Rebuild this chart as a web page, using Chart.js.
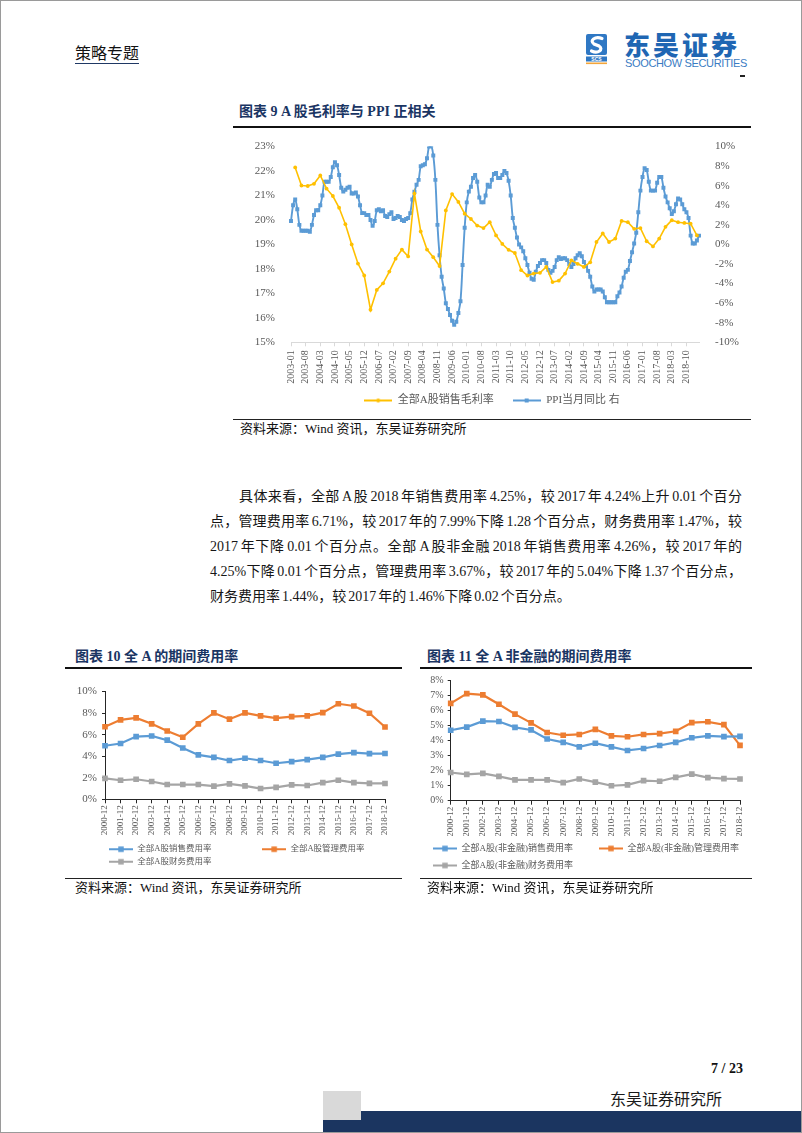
<!DOCTYPE html>
<html lang="zh-CN">
<head>
<meta charset="UTF-8">
<title>策略专题 - 东吴证券</title>
<script src="https://cdn.jsdelivr.net/npm/chart.js"></script>
<style>
  body { margin: 0; background: #fff; }
  .page {
    position: relative; width: 802px; height: 1133px; overflow: hidden;
    font-family: "Liberation Serif", "Noto Sans CJK SC", serif; color: #111;
  }
  .abs { position: absolute; }
  .frame { position: absolute; left: 0; top: 0; right: 0; bottom: 0; border: 1px solid #9a9a9a; pointer-events: none; }
  .topic { left: 75px; top: 42px; font-size: 16px; line-height: 20px; font-family: "Noto Sans CJK SC", sans-serif; border-bottom: 1px solid #1f3864; padding-bottom: 1px; }
  .brand-cn { left: 624px; top: 30px; font-family: "Noto Sans CJK SC", sans-serif; font-weight: 900; font-size: 26px; line-height: 28px; letter-spacing: 3px; color: #1f66b3; }
  .brand-en { left: 625px; top: 57px; font-family: "Liberation Sans", Arial, sans-serif; font-size: 11px; line-height: 12px; letter-spacing: -0.35px; color: #3a7cc3; }
  .title { font-weight: bold; font-size: 14px; line-height: 18px; color: #1a3563; }
  .rule { height: 1.5px; background: #111; }
  .rule-thin { height: 1px; background: #222; }
  .source { font-size: 13px; line-height: 18px; color: #111; }
  .chart-box { position: absolute; }
  .para { left: 210px; top: 484px; width: 532px; font-size: 14px; line-height: 25px; color: #161616; word-spacing: -1.5px; }
  .para div { white-space: nowrap; text-align: justify; text-align-last: justify; }
  .para div.last { text-align-last: left; }
  .para div.first { text-indent: 29px; }
</style>
</head>
<body>
<div class="page">
  <!-- header -->
  <div class="abs topic">策略专题</div>
  <svg class="abs" style="left:586px;top:34px" width="22" height="31" viewBox="0 0 22 31">
    <rect x="0" y="0" width="21" height="21" rx="2" fill="#2f78c4"/>
    <path d="M16 4.5 C9 2, 3 6.5, 8 10 L13 12 C18 15.5, 12 20, 5.5 17" stroke="#fff" stroke-width="3.2" fill="none" stroke-linecap="round"/>
    <rect x="0" y="22.5" width="21" height="5" fill="#2f78c4"/>
    <text x="10.5" y="26.6" font-size="5" fill="#fff" text-anchor="middle" font-family="Liberation Sans" font-weight="bold">SCS</text>
    <rect x="0" y="28.5" width="21" height="1.6" fill="#f3a53a"/>
  </svg>
  <div class="abs brand-cn">东吴证券</div>
  <div class="abs brand-en">SOOCHOW SECURITIES</div>
  <div class="abs" style="left:740px;top:75px;width:5px;height:1.5px;background:#222"></div>

  <!-- chart 9 -->
  <div class="abs title" style="left:239px;top:103px">图表 9 A 股毛利率与 PPI 正相关</div>
  <div class="abs rule" style="left:233px;top:126px;width:518px"></div>
  <div class="chart-box" style="left:233px;top:132px;width:518px;height:284px"><canvas id="c9"></canvas></div>
  <div class="abs rule-thin" style="left:233px;top:419px;width:518px"></div>
  <div class="abs source" style="left:240px;top:420px">资料来源：Wind 资讯，东吴证券研究所</div>

  <!-- text -->
  <div class="abs para">
    <div class="first">具体来看，全部 A 股 2018 年销售费用率 4.25%，较 2017 年 4.24%上升 0.01 个百分</div>
    <div>点，管理费用率 6.71%，较 2017 年的 7.99%下降 1.28 个百分点，财务费用率 1.47%，较</div>
    <div>2017 年下降 0.01 个百分点。全部 A 股非金融 2018 年销售费用率 4.26%，较 2017 年的</div>
    <div>4.25%下降 0.01 个百分点，管理费用率 3.67%，较 2017 年的 5.04%下降 1.37 个百分点，</div>
    <div class="last">财务费用率 1.44%，较 2017 年的 1.46%下降 0.02 个百分点。</div>
  </div>

  <!-- chart 10 -->
  <div class="abs title" style="left:75px;top:648px">图表 10 全 A 的期间费用率</div>
  <div class="abs rule" style="left:65px;top:667px;width:337px"></div>
  <div class="chart-box" style="left:65px;top:680px;width:335px;height:196px"><canvas id="c10"></canvas></div>
  <div class="abs rule-thin" style="left:65px;top:878px;width:337px"></div>
  <div class="abs source" style="left:75px;top:879px">资料来源：Wind 资讯，东吴证券研究所</div>

  <!-- chart 11 -->
  <div class="abs title" style="left:427px;top:648px">图表 11 全 A 非金融的期间费用率</div>
  <div class="abs rule" style="left:420px;top:667px;width:332px"></div>
  <div class="chart-box" style="left:420px;top:670px;width:355px;height:210px"><canvas id="c11"></canvas></div>
  <div class="abs rule-thin" style="left:420px;top:878px;width:332px"></div>
  <div class="abs source" style="left:427px;top:879px">资料来源：Wind 资讯，东吴证券研究所</div>

  <!-- footer -->
  <div class="abs" style="left:711px;top:1060px;font-size:14px;font-weight:bold;line-height:18px">7 / 23</div>
  <div class="abs" style="left:610px;top:1087px;font-size:16px;line-height:22px;font-family:'Noto Sans CJK SC',sans-serif;color:#1a1a1a">东吴证券研究所</div>
  <div class="abs" style="left:323px;top:1111px;width:479px;height:22px;background:#1b3560"></div>
  <div class="abs" style="left:323px;top:1091px;width:38px;height:29px;background:#d9d9d9"></div>

  <div class="frame"></div>
</div>

<script>
// ---- chart 9: gross margin (quarterly, left axis) vs PPI yoy (monthly, right axis)
const ppi = [
  2.4, 4.0, 4.6, 3.6, 2.0, 1.4, 1.4, 1.4, 1.4, 1.3, 2.0, 3.0,        // 2003
  3.5, 3.5, 4.0, 5.0, 6.4, 6.4, 6.4, 6.9, 7.9, 8.4, 8.1, 7.1,        // 2004
  5.8, 5.4, 5.6, 5.8, 5.9, 5.2, 5.2, 5.3, 4.9, 4.0, 3.2, 3.2,        // 2005
  3.0, 3.0, 2.5, 1.9, 2.4, 3.5, 3.6, 3.4, 3.5, 2.9, 2.8, 3.1,        // 2006
  3.3, 2.6, 2.7, 2.9, 2.8, 2.5, 2.4, 2.6, 2.7, 3.2, 4.6, 5.4,        // 2007
  6.1, 6.6, 8.0, 8.1, 8.2, 8.8, 10.0, 10.1, 9.1, 6.6, 2.0, -1.1,     // 2008
  -3.3, -4.5, -6.0, -6.6, -7.2, -7.8, -8.2, -7.9, -7.0, -5.8, -2.1, 1.7, // 2009
  4.3, 5.4, 5.9, 6.8, 7.1, 6.4, 4.8, 4.3, 4.3, 5.0, 6.1, 5.9,        // 2010
  6.6, 7.2, 7.3, 6.8, 6.8, 7.1, 7.5, 7.3, 6.5, 5.0, 2.7, 1.7,        // 2011
  0.7, 0.0, -0.3, -0.7, -1.4, -2.1, -2.9, -3.5, -3.6, -2.8, -2.2, -1.9, // 2012
  -1.6, -1.6, -1.9, -2.6, -2.9, -2.7, -2.3, -1.6, -1.3, -1.5, -1.4, -1.4, // 2013
  -1.6, -2.0, -2.3, -2.0, -1.4, -1.1, -0.9, -1.2, -1.8, -2.2, -2.7, -3.3, // 2014
  -4.3, -4.8, -4.6, -4.6, -4.6, -4.8, -5.4, -5.9, -5.9, -5.9, -5.9, -5.9, // 2015
  -5.3, -4.9, -4.3, -3.4, -2.8, -2.6, -1.7, -0.8, 0.1, 1.2, 3.3, 5.5,  // 2016
  6.9, 7.8, 7.6, 6.4, 5.5, 5.5, 5.5, 6.3, 6.9, 6.9, 5.8, 4.9,        // 2017
  4.3, 3.7, 3.1, 3.4, 4.1, 4.7, 4.6, 4.1, 3.6, 3.3, 2.7, 0.9,        // 2018
  0.1, 0.1, 0.4, 0.9                                                 // 2019
];
const grossMargin = [
  22.15, 21.41, 21.39, 21.48,  21.82, 21.28, 20.98, 20.50,  19.83, 19.00, 18.22, 17.73,
  16.33, 17.14, 17.41, 17.89,  18.42, 18.79, 18.51, 21.08,  19.53, 18.79, 18.48, 18.12,
  20.39, 21.06, 20.74, 20.26,  20.04, 19.77, 19.67, 19.91,  19.37, 19.02, 18.78, 18.65,
  17.95, 17.73, 17.81, 17.84,  18.08, 17.46, 17.52, 17.81,  18.35, 18.21, 18.08, 18.27,
  19.10, 19.45, 19.10, 19.24,  19.96, 19.91, 19.64, 19.67,  19.13, 18.92, 19.24, 19.72,
  19.99, 19.91, 19.88, 19.85,  19.37
];

const months = [];
for (let y = 2003; y <= 2019; y++) {
  for (let m = 1; m <= 12; m++) {
    if (y === 2019 && m > 4) break;
    months.push(y + '-' + String(m).padStart(2, '0'));
  }
}
const quarterEnds = months.filter(l => ['03', '06', '09', '12'].includes(l.slice(5)));

// ---- charts 10 / 11: yearly expense ratios (%)
const years = ['2000-12', '2001-12', '2002-12', '2003-12', '2004-12', '2005-12', '2006-12', '2007-12',
  '2008-12', '2009-12', '2010-12', '2011-12', '2012-12', '2013-12', '2014-12', '2015-12', '2016-12',
  '2017-12', '2018-12'];

const allSales = [4.97, 5.18, 5.82, 5.88, 5.49, 4.76, 4.12, 3.90, 3.60, 3.81, 3.60, 3.35, 3.50, 3.69, 3.90, 4.20, 4.33, 4.24, 4.25];
const allAdmin = [6.74, 7.38, 7.56, 7.01, 6.34, 5.76, 7.01, 8.02, 7.44, 8.02, 7.74, 7.53, 7.68, 7.74, 8.05, 8.87, 8.66, 7.99, 6.71];
const allFinance = [1.95, 1.77, 1.86, 1.65, 1.37, 1.37, 1.37, 1.22, 1.43, 1.25, 1.00, 1.10, 1.34, 1.28, 1.55, 1.77, 1.55, 1.48, 1.47];

const nfSales = [4.67, 4.88, 5.27, 5.25, 4.86, 4.69, 4.09, 3.87, 3.57, 3.81, 3.57, 3.33, 3.46, 3.66, 3.87, 4.17, 4.30, 4.25, 4.26];
const nfAdmin = [6.45, 7.10, 7.01, 6.39, 5.74, 5.16, 4.52, 4.34, 4.39, 4.73, 4.30, 4.24, 4.39, 4.45, 4.60, 5.18, 5.23, 5.04, 3.67];
const nfFinance = [1.87, 1.74, 1.81, 1.61, 1.38, 1.38, 1.38, 1.20, 1.44, 1.23, 0.99, 1.05, 1.33, 1.29, 1.55, 1.76, 1.53, 1.46, 1.44];

const BLUE = '#5b9bd5', ORANGE = '#ed7d31', GRAY = '#a5a5a5', GOLD = '#ffc000';
const TICK = '#595959';
const SERIF = '"Liberation Serif", "Noto Sans CJK SC", serif';

Chart.defaults.animation = false;
Chart.defaults.font.family = SERIF;
Chart.defaults.color = TICK;

// little "line + marker" picture for legend entries (excel style)
function legendIcon(color, shape, w, markSize, lineW) {
  const c = document.createElement('canvas');
  c.width = w; c.height = 10;
  const g = c.getContext('2d');
  g.strokeStyle = color; g.lineWidth = lineW;
  g.beginPath(); g.moveTo(0, 5); g.lineTo(w, 5); g.stroke();
  g.fillStyle = color;
  if (shape === 'rect') {
    g.fillRect(w / 2 - markSize / 2, 5 - markSize / 2, markSize, markSize);
  } else {
    g.beginPath(); g.arc(w / 2, 5, markSize / 2, 0, Math.PI * 2); g.fill();
  }
  return c;
}

function legendLabels(icons, pads) {
  return function (chart) {
    return Chart.defaults.plugins.legend.labels.generateLabels(chart).map((it, i) => {
      it.pointStyle = icons[i];
      it.text = it.text + (pads[i] || '');
      return it;
    });
  };
}

// chart 9
new Chart(document.getElementById('c9'), {
  type: 'line',
  data: {
    labels: months,
    datasets: [{
      label: '全部A股销售毛利率',
      data: quarterEnds.map((q, i) => ({ x: q, y: grossMargin[i] })),
      yAxisID: 'y',
      borderColor: GOLD, backgroundColor: GOLD,
      borderWidth: 1.6, pointRadius: 1.9, pointStyle: 'circle', pointBorderWidth: 0,
      tension: 0
    }, {
      label: 'PPI当月同比 右',
      data: ppi,
      yAxisID: 'y1',
      borderColor: BLUE, backgroundColor: BLUE,
      borderWidth: 1.9, pointRadius: 2.8, pointStyle: 'rect', pointBorderWidth: 0,
      tension: 0.35
    }]
  },
  options: {
    responsive: true,
    maintainAspectRatio: false,
    layout: { padding: { top: 12, left: 0, right: 0, bottom: 0 } },
    plugins: {
      tooltip: { enabled: false },
      legend: {
        position: 'bottom',
        labels: {
          usePointStyle: true, pointStyleWidth: 28, padding: 8,
          font: { size: 11 }, color: TICK,
          generateLabels: legendLabels([legendIcon(GOLD, 'circle', 28, 4, 2), legendIcon(BLUE, 'rect', 28, 4, 2)], ['\u2003', ''])
        }
      }
    },
    scales: {
      x: {
        grid: {
          display: true, drawOnChartArea: false, tickLength: 4,
          color: c => (c.index % 7 === 0 ? '#d9d9d9' : 'rgba(0,0,0,0)')
        },
        border: { display: true, color: '#d9d9d9' },
        ticks: {
          autoSkip: false, minRotation: 90, maxRotation: 90, padding: 4,
          font: { size: 10 }, color: TICK,
          callback: function (v, i) { return i % 7 === 0 ? this.getLabelForValue(v) : ''; }
        },
        afterFit: s => { s.height = 44.7; }
      },
      y: {
        position: 'left', min: 15, max: 23,
        grid: { display: false }, border: { display: false },
        ticks: { stepSize: 1, padding: 8, font: { size: 11 }, color: TICK, callback: v => v + '%' },
        afterFit: s => { s.width = 58; }
      },
      y1: {
        position: 'right', min: -10, max: 10,
        grid: { display: false }, border: { display: false },
        ticks: { stepSize: 2, padding: 8, font: { size: 11 }, color: TICK, callback: v => v + '%' },
        afterFit: s => { s.width = 52; }
      }
    }
  }
});

// charts 10 and 11 share a layout
function expenseChart(id, names, series, opt) {
  const colors = [BLUE, ORANGE, GRAY];
  return new Chart(document.getElementById(id), {
    type: 'line',
    data: {
      labels: years,
      datasets: series.map((s, i) => ({
        label: names[i], data: s,
        borderColor: colors[i], backgroundColor: colors[i],
        borderWidth: 2.2, pointRadius: 4, pointStyle: 'rect', pointBorderWidth: 0, tension: 0
      }))
    },
    options: {
      responsive: true,
      maintainAspectRatio: false,
      layout: { padding: opt.padding },
      plugins: {
        tooltip: { enabled: false },
        legend: {
          position: 'bottom', align: 'start', fullSize: opt.legendFull,
          labels: {
            usePointStyle: true, pointStyleWidth: 24, padding: opt.legendPad,
            font: { size: opt.legendFont }, color: TICK,
            generateLabels: legendLabels(colors.map(c => legendIcon(c, 'rect', 24, 5.5, 2)), opt.pads)
          }
        }
      },
      scales: {
        x: {
          grid: { display: true, drawOnChartArea: false, tickLength: 4, color: '#262626' },
          border: { display: true, color: '#262626', width: 1 },
          ticks: { autoSkip: false, minRotation: 90, maxRotation: 90, padding: 2, font: { size: 9 }, color: TICK },
          afterFit: s => { s.height = opt.xHeight; }
        },
        y: {
          min: 0, max: opt.max,
          grid: { display: true, drawOnChartArea: false, tickLength: 3, color: '#262626' },
          border: { display: true, color: '#262626', width: 1 },
          ticks: { stepSize: opt.step, padding: opt.yPad, font: { size: opt.yFont }, color: TICK, callback: v => v + '%' },
          afterFit: s => { s.width = opt.yWidth; }
        },
        y2: {
          position: 'right', display: true,
          grid: { display: false }, border: { display: false }, ticks: { display: false },
          afterFit: s => { s.width = opt.rightGap; }
        }
      }
    }
  });
}

expenseChart('c10', ['全部A股销售费用率', '全部A股管理费用率', '全部A股财务费用率'],
  [allSales, allAdmin, allFinance], {
    padding: { top: 10, left: 2, right: 0, bottom: 0 },
    legendFull: false, legendPad: 4, legendFont: 8.5, pads: ['\u3000\u3000\u3000\u3000\u3000  ', '', ''],
    xHeight: 41.7, max: 10, step: 2, yPad: 5, yFont: 11, yWidth: 38, rightGap: 15
  });

expenseChart('c11', ['全部A股(非金融)销售费用率', '全部A股(非金融)管理费用率', '全部A股(非金融)财务费用率'],
  [nfSales, nfAdmin, nfFinance], {
    padding: { top: 6.7, left: 5, right: 0, bottom: 0 },
    legendFull: true, legendPad: 8, legendFont: 9, pads: ['\u3000\u3000', '', ''],
    xHeight: 35.3, max: 8, step: 1, yPad: 4, yFont: 10, yWidth: 25.7, rightGap: 35
  });
</script>
</body>
</html>
